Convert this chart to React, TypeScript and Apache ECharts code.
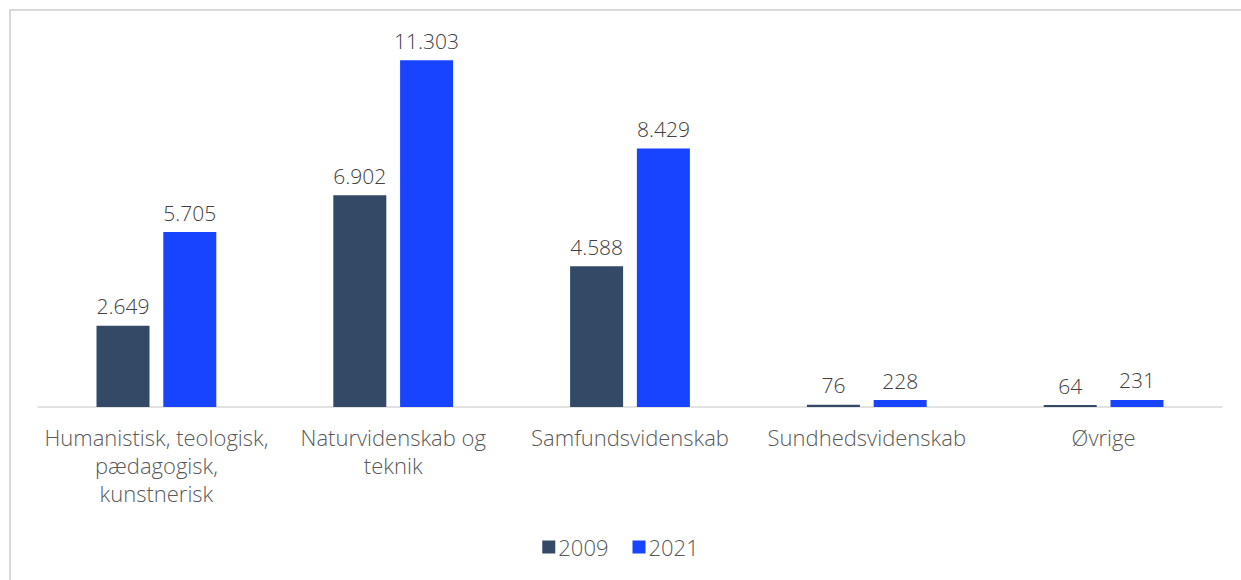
import React, { useEffect, useRef } from "react";
import * as echarts from "echarts";

const categories = [
  "Humanistisk, teologisk,\npædagogisk,\nkunstnerisk",
  "Naturvidenskab og\nteknik",
  "Samfundsvidenskab",
  "Sundhedsvidenskab",
  "Øvrige",
];
const seriesNames = ["2009", "2021"];
const values2009 = [2649, 6902, 4588, 76, 64];
const values2021 = [5705, 11303, 8429, 228, 231];
const colors = ["#344966", "#1844ff"];

const FONT = "'Open Sans', 'Noto Sans', sans-serif";
const fmt = (v: number) => String(v).replace(/\B(?=(\d{3})+(?!\d))/g, ".");

export default function App() {
  const ref = useRef<HTMLDivElement>(null);
  useEffect(() => {
    if (!ref.current) return;
    const chart = echarts.init(ref.current, undefined, { renderer: "svg" });
    const mk = (name: string, data: number[], color: string) => ({
      name,
      type: "bar",
      data,
      barWidth: 53,
      barGap: "26%",
      itemStyle: { color },
      label: {
        show: true,
        position: "top",
        distance: 9,
        color: "#404040",
        fontSize: 21,
        fontWeight: 300,
        fontFamily: FONT,
        formatter: (p: any) => fmt(p.value),
      },
    });
    chart.setOption({
      animation: false,
      textStyle: { fontFamily: FONT },
      graphic: [
        {
          type: "line",
          shape: { x1: 10, y1: 9, x2: 10, y2: 580 },
          style: { stroke: "#d9d9d9", lineWidth: 2 },
          silent: true,
        },
        {
          type: "line",
          shape: { x1: 9, y1: 10, x2: 1241, y2: 10 },
          style: { stroke: "#d9d9d9", lineWidth: 2 },
          silent: true,
        },
      ],
      legend: {
        data: seriesNames,
        bottom: 17,
        left: "center",
        itemWidth: 13,
        itemHeight: 13,
        itemGap: 24,
        icon: "rect",
        textStyle: { color: "#595959", fontSize: 22, fontWeight: 300, fontFamily: FONT, padding: [0, 0, 0, -2] },
      },
      grid: { left: 38, right: 19, top: 39, bottom: 173 },
      xAxis: {
        type: "category",
        data: categories,
        axisLine: { lineStyle: { color: "#d9d9d9", width: 1.5 } },
        axisTick: { show: false },
        axisLabel: {
          color: "#595959",
          fontSize: 22,
          fontWeight: 300,
          lineHeight: 28,
          margin: 16,
          fontFamily: FONT,
          interval: 0,
        },
      },
      yAxis: {
        type: "value",
        min: 0,
        max: 12000,
        show: false,
        splitLine: { show: false },
      },
      series: [
        mk(seriesNames[0], values2009, colors[0]),
        mk(seriesNames[1], values2021, colors[1]),
      ],
    });
    return () => chart.dispose();
  }, []);
  return (
    <div style={{ position: "absolute", left: 0, top: 0, width: 1241, height: 580, overflow: "hidden" }}>
      <div ref={ref} style={{ width: 1241, height: 580 }} />
    </div>
  );
}
